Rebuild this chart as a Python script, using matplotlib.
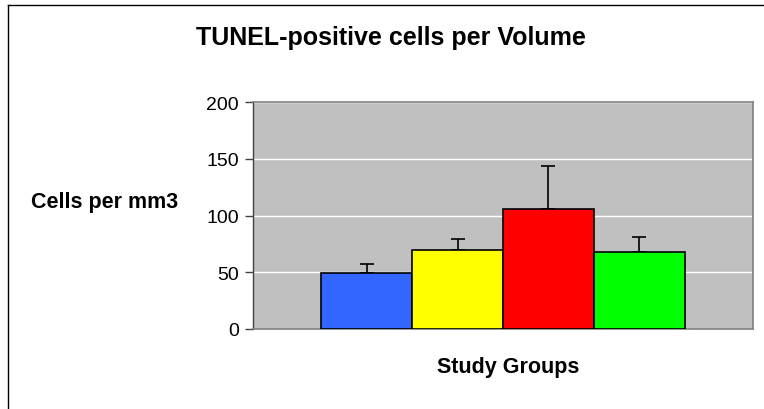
import matplotlib
matplotlib.use("Agg")
import matplotlib.pyplot as plt
from matplotlib.lines import Line2D
import numpy as np

plt.rcParams['font.family'] = ['Liberation Sans', 'DejaVu Sans']

# data
groups = ['Group 1', 'Group 2', 'Group 3', 'Group 4']
values = [49, 70, 106, 68]
errors = [8, 9, 38, 13]
colours = ['#3366FF', '#FFFF00', '#FF0000', '#00FF00']
yticks = [0, 50, 100, 150, 200]

fig = plt.figure(figsize=(7.64, 4.10), dpi=100)
ax = fig.add_axes([253 / 764, 1 - 330 / 410, 500 / 764, 227 / 410])

ax.set_facecolor('#C0C0C0')
width = 0.1816
offsets = (np.arange(len(values)) - 1.5) * width
for off, v, e, c in zip(offsets, values, errors, colours):
    ax.bar(off, v, width=width, color=c, edgecolor='black', linewidth=1.2, zorder=3)
    ax.errorbar(off, v, yerr=[[0], [e]], fmt='none', ecolor='black',
                elinewidth=1.2, capsize=5, capthick=1.2, zorder=2)

ax.set_xlim(-0.5, 0.5)
ax.set_ylim(0, 200)
ax.set_yticks(yticks)
ax.set_xticks([])
ax.yaxis.grid(True, color='white', linewidth=1)
ax.set_axisbelow(True)

for side in ['top', 'right', 'bottom']:
    ax.spines[side].set_color('#808080')
    ax.spines[side].set_linewidth(1.2)
ax.spines['left'].set_color('#404040')
ax.spines['left'].set_linewidth(1)
ax.tick_params(axis='y', direction='out', length=6, width=1, pad=4,
               labelsize=14, color='#404040')

fig.text(391 / 764, 1 - 45 / 410, 'TUNEL-positive cells per Volume',
         ha='center', va='baseline', fontsize=18, fontweight='bold')
fig.text(105 / 764, 1 - 208 / 410, 'Cells per mm3',
         ha='center', va='baseline', fontsize=15.5, fontweight='bold')
fig.text(508 / 764, 1 - 373 / 410, 'Study Groups',
         ha='center', va='baseline', fontsize=15.5, fontweight='bold')

# outer chart frame, partly cut off at the right and bottom
fig.add_artist(Line2D([8 / 764, 8 / 764], [0, 1 - 6 / 410], color='black',
                      linewidth=1, transform=fig.transFigure))
fig.add_artist(Line2D([8 / 764, 1], [1 - 6 / 410, 1 - 6 / 410], color='black',
                      linewidth=1, transform=fig.transFigure))

fig.savefig('out.png', dpi=100)
